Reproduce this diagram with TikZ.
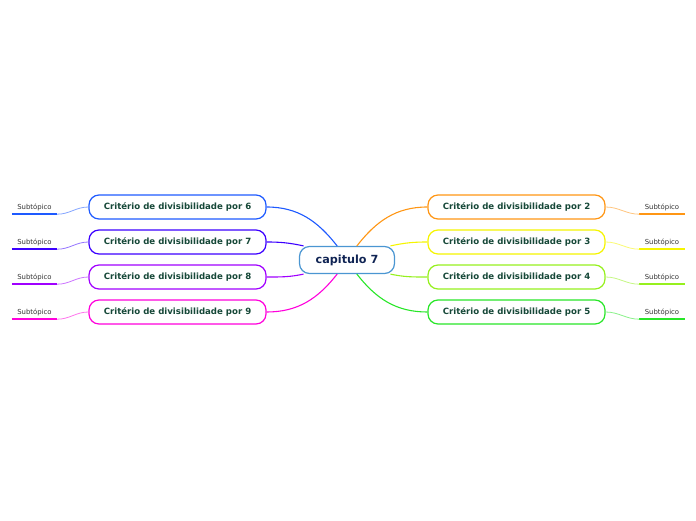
\documentclass[tikz,border=0pt]{standalone}
\usepackage{fontspec}
\setmainfont{DejaVu Sans}
\definecolor{topicBlue}{RGB}{74,150,210}
\definecolor{titleNavy}{RGB}{16,36,84}
\definecolor{textGreen}{RGB}{22,72,56}
\definecolor{brSix}{RGB}{30,90,255}
\definecolor{brSeven}{RGB}{60,0,255}
\definecolor{brEight}{RGB}{160,0,255}
\definecolor{brNine}{RGB}{255,0,220}
\definecolor{brTwo}{RGB}{255,150,20}
\definecolor{brThree}{RGB}{245,245,0}
\definecolor{brFour}{RGB}{150,240,30}
\definecolor{brFive}{RGB}{40,230,40}
\usetikzlibrary{positioning,calc}

\begin{document}
\begin{tikzpicture}[x=1pt,y=-1pt,
        central/.style={draw=topicBlue, line width=1.2pt, rounded corners=10pt,
          fill=white, minimum width=95pt, minimum height=27pt, inner sep=0pt,
          font=\fontsize{11.2}{13}\selectfont\bfseries, text=titleNavy},
        crit/.style={draw=#1, line width=1.2pt, rounded corners=10pt,
          fill=white, minimum width=177pt, minimum height=24pt, inner sep=0pt,
          font=\fontsize{8.6}{10}\selectfont\bfseries, text=textGreen},
        sub/.style={minimum width=45pt, minimum height=14pt, inner sep=0pt,
          font=\fontsize{6.9}{8}\selectfont, text=black!80},
        link/.style={draw=#1, line width=1.1pt},
        sublink/.style={draw=#1!55, line width=0.8pt},
        uline/.style={draw=#1, line width=2pt},
      ]
        \useasboundingbox (0,0) rectangle (696,520);

        \node[central] (ctr) at (347,260) {capitulo 7};

        % left branches
        \node[crit=brSix] (c6) at (177.5,207) {Critério de divisibilidade por 6};
        \node[crit=brSeven] (c7) at (177.5,242) {Critério de divisibilidade por 7};
        \node[crit=brEight] (c8) at (177.5,277) {Critério de divisibilidade por 8};
        \node[crit=brNine] (c9) at (177.5,312) {Critério de divisibilidade por 9};

        % right branches
        \node[crit=brTwo] (c2) at (516.5,207) {Critério de divisibilidade por 2};
        \node[crit=brThree] (c3) at (516.5,242) {Critério de divisibilidade por 3};
        \node[crit=brFour] (c4) at (516.5,277) {Critério de divisibilidade por 4};
        \node[crit=brFive] (c5) at (516.5,312) {Critério de divisibilidade por 5};

        % subtopics
        \node[sub] (s6) at (34.5,207) {Subtópico};
        \node[sub] (s7) at (34.5,242) {Subtópico};
        \node[sub] (s8) at (34.5,277) {Subtópico};
        \node[sub] (s9) at (34.5,312) {Subtópico};
        \node[sub] (s2) at (662,207) {Subtópico};
        \node[sub] (s3) at (662,242) {Subtópico};
        \node[sub] (s4) at (662,277) {Subtópico};
        \node[sub] (s5) at (662,312) {Subtópico};

        \draw[link=brSix] (ctr.125) to[out=128,in=0] (c6.east);
        \draw[link=brSeven] (ctr.162) to[out=168,in=0] (c7.east);
        \draw[link=brEight] (ctr.198) to[out=192,in=0] (c8.east);
        \draw[link=brNine] (ctr.235) to[out=232,in=0] (c9.east);
        \draw[link=brTwo] (ctr.55) to[out=52,in=180] (c2.west);
        \draw[link=brThree] (ctr.18) to[out=12,in=180] (c3.west);
        \draw[link=brFour] (ctr.342) to[out=348,in=180] (c4.west);
        \draw[link=brFive] (ctr.305) to[out=308,in=180] (c5.west);

        \draw[uline=brSix] (s6.south west) -- (s6.south east);
        \draw[uline=brSeven] (s7.south west) -- (s7.south east);
        \draw[uline=brEight] (s8.south west) -- (s8.south east);
        \draw[uline=brNine] (s9.south west) -- (s9.south east);
        \draw[uline=brTwo] (s2.south west) -- (s2.south east);
        \draw[uline=brThree] (s3.south west) -- (s3.south east);
        \draw[uline=brFour] (s4.south west) -- (s4.south east);
        \draw[uline=brFive] (s5.south west) -- (s5.south east);

        \draw[sublink=brSix] (s6.south east) to[out=0,in=180] (c6.west);
        \draw[sublink=brSeven] (s7.south east) to[out=0,in=180] (c7.west);
        \draw[sublink=brEight] (s8.south east) to[out=0,in=180] (c8.west);
        \draw[sublink=brNine] (s9.south east) to[out=0,in=180] (c9.west);
        \draw[sublink=brTwo] (c2.east) to[out=0,in=180] (s2.south west);
        \draw[sublink=brThree] (c3.east) to[out=0,in=180] (s3.south west);
        \draw[sublink=brFour] (c4.east) to[out=0,in=180] (s4.south west);
        \draw[sublink=brFive] (c5.east) to[out=0,in=180] (s5.south west);
      \end{tikzpicture}
\end{document}
